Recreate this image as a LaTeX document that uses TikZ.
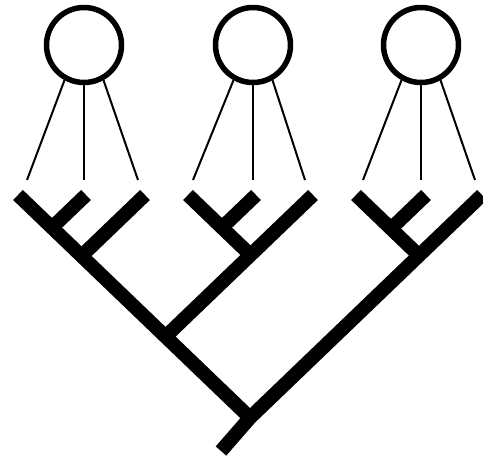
\documentclass[tikz,border=0pt]{standalone}
\usepackage{tikz}
\usetikzlibrary{positioning}

\begin{document}
\begin{tikzpicture}[
    x=1pt, y=-1pt,
    group/.style={circle, draw, line width=5.5pt, minimum size=75pt, inner sep=0pt},
    link/.style={line width=2pt},
    branch/.style={line width=14pt}
]
    \useasboundingbox (0,0) rectangle (483,467);

    % Groups
    \node[group] (g1) at (84,45) {};
    \node[group] (g2) at (253,45) {};
    \node[group] (g3) at (421,45) {};

    % Ends of the links
    \coordinate (e11) at (27,180);
    \coordinate (e12) at (84,180);
    \coordinate (e13) at (138,180);
    \coordinate (e21) at (193,180);
    \coordinate (e22) at (253,180);
    \coordinate (e23) at (305,180);
    \coordinate (e31) at (363,180);
    \coordinate (e32) at (421,180);
    \coordinate (e33) at (475,180);

    % Links
    \draw[link] (g1.241) -- (e11);
    \draw[link] (g1.270) -- (e12);
    \draw[link] (g1.299) -- (e13);
    \draw[link] (g2.241) -- (e21);
    \draw[link] (g2.270) -- (e22);
    \draw[link] (g2.299) -- (e23);
    \draw[link] (g3.241) -- (e31);
    \draw[link] (g3.270) -- (e32);
    \draw[link] (g3.299) -- (e33);

    % Leaves
    \coordinate (l1) at (18,195);
    \coordinate (l2) at (86,195);
    \coordinate (l3) at (145,195);
    \coordinate (l4) at (188,195);
    \coordinate (l5) at (256,195);
    \coordinate (l6) at (313,195);
    \coordinate (l7) at (356,195);
    \coordinate (l8) at (426,195);
    \coordinate (l9) at (482,195);

    % Junctions
    \coordinate (j12) at (52,227.6);
    \coordinate (j13) at (81.5,256);
    \coordinate (j45) at (222,227.6);
    \coordinate (j46) at (250.5,255);
    \coordinate (j78) at (391,228.6);
    \coordinate (j79) at (419,255.5);
    \coordinate (j16) at (165.5,336.6);
    \coordinate (root) at (250,417.7);
    \coordinate (stem) at (221,451);

    % Tree
    \draw[branch] (l1) -- (root);
    \draw[branch] (l9) -- (root) -- (stem);
    \draw[branch] (l2) -- (j12);
    \draw[branch] (l3) -- (j13);
    \draw[branch] (l6) -- (j16);
    \draw[branch] (l5) -- (j45);
    \draw[branch] (l4) -- (j46);
    \draw[branch] (l8) -- (j78);
    \draw[branch] (l7) -- (j79);

\end{tikzpicture}
\end{document}
